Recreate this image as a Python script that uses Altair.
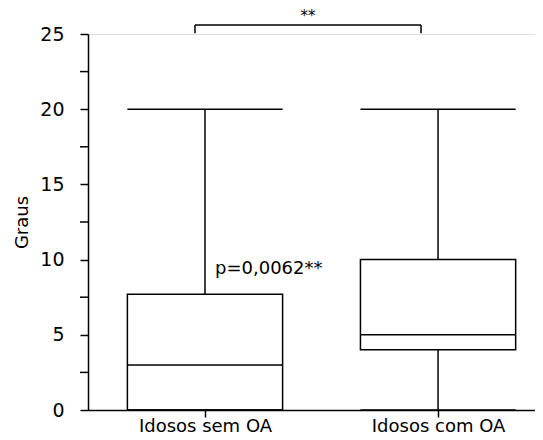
import altair as alt
import pandas as pd

groups = ["Idosos sem OA", "Idosos com OA"]
positions = [1, 2]
mins = [0, 0]
q1s = [0, 4]
medians = [3, 5]
q3s = [7.7, 10]
maxs = [20, 20]

p_text = "p=0,0062**"
sig_text = "**"
y_major = [0, 5, 10, 15, 20, 25]
y_minor = [2.5, 7.5, 12.5, 17.5, 22.5]

HALF = 0.333
FONT = "DejaVu Sans"

df = pd.DataFrame({
    "group": groups, "pos": positions, "min": mins, "q1": q1s,
    "median": medians, "q3": q3s, "max": maxs,
})
df["left"] = df["pos"] - HALF
df["right"] = df["pos"] + HALF

label_expr = " : ".join(
    [f"datum.value == {p} ? '{g}'" for p, g in zip(positions, groups)]
) + " : ''"

xscale = alt.Scale(domain=[0.498, 2.416], nice=False, zero=False)
yscale = alt.Scale(domain=[0, 25], nice=False)

base = alt.Chart(df)

whisker = base.mark_rule(color="black", strokeWidth=1.5).encode(
    x=alt.X("pos:Q", scale=xscale, axis=alt.Axis(
        values=positions, labelExpr=label_expr, title=None, grid=False,
        tickSize=7, tickColor="black", domainColor="black", tickWidth=1.5,
        domainWidth=1.5, labelFontSize=18, labelColor="black", labelFont=FONT,
        labelPadding=0, labelFlush=False)),
    y=alt.Y("min:Q", scale=yscale, axis=alt.Axis(
        values=y_major,
        title="Graus", titleFontSize=18, titleFont=FONT, titleFontWeight="normal",
        titleColor="black", titlePadding=8, grid=False, tickSize=8,
        tickColor="black", domainColor="black", tickWidth=1.5, domainWidth=1.5,
        labelFontSize=19, labelColor="black", labelFont=FONT, labelPadding=16)),
    y2="max:Q",
)

box = base.mark_rect(fill="white", stroke="black", strokeWidth=1.5).encode(
    x="left:Q", x2="right:Q", y="q1:Q", y2="q3:Q"
)

median_rule = base.mark_rule(color="black", strokeWidth=1.5).encode(
    x="left:Q", x2="right:Q", y="median:Q"
)
cap_max = base.mark_rule(color="black", strokeWidth=1.5).encode(
    x="left:Q", x2="right:Q", y="max:Q"
)
cap_min = base.mark_rule(color="black", strokeWidth=1.5).encode(
    x="left:Q", x2="right:Q", y="min:Q"
)

minor_df = pd.DataFrame({"v": y_minor})
minor = alt.Chart(minor_df).mark_rule(color="black", strokeWidth=1.5).encode(
    x=alt.value(-8), x2=alt.value(0), y="v:Q"
)

ann = pd.DataFrame({"x": [1.043], "y": [9.35], "t": [p_text]})
p_label = alt.Chart(ann).mark_text(
    align="left", baseline="middle", fontSize=18, font=FONT, color="black"
).encode(x="x:Q", y="y:Q", text="t:N")

br = pd.DataFrame({"x1": [0.957], "x2": [1.927], "ytop": [25.6], "ybot": [25.05],
                   "xm": [1.442], "ys": [26.2], "t": [sig_text]})
br_h = alt.Chart(br).mark_rule(color="black", strokeWidth=1.5).encode(
    x="x1:Q", x2="x2:Q", y="ytop:Q")
br_l = alt.Chart(br).mark_rule(color="black", strokeWidth=1.5).encode(
    x="x1:Q", y="ybot:Q", y2="ytop:Q")
br_r = alt.Chart(br).mark_rule(color="black", strokeWidth=1.5).encode(
    x="x2:Q", y="ybot:Q", y2="ytop:Q")
br_t = alt.Chart(br).mark_text(
    align="center", baseline="middle", fontSize=15, font=FONT, color="black"
).encode(x="xm:Q", y="ys:Q", text="t:N")

chart = alt.layer(
    whisker, box, median_rule, cap_max, cap_min, minor, p_label,
    br_h, br_l, br_r, br_t
).properties(
    width=447, height=376,
    autosize=alt.AutoSizeParams(type="none"),
    padding={"left": 80, "top": 26, "right": 0, "bottom": 29},
).configure_view(stroke=None).configure(background="white")

chart.save("out.html", embed_options={"renderer": "svg", "actions": False})
